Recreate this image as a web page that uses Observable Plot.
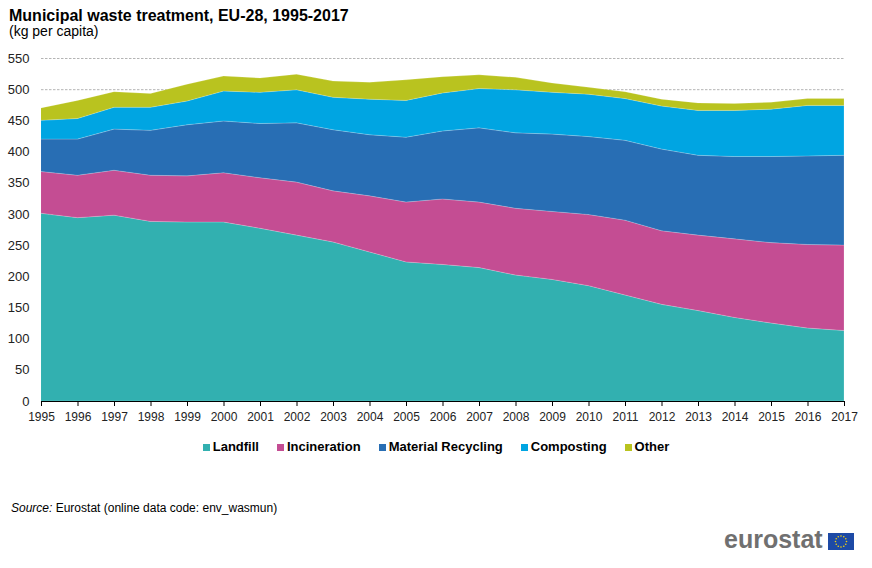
<!DOCTYPE html>
<html>
<head>
<meta charset="utf-8">
<script src="https://cdn.jsdelivr.net/npm/d3@7"></script>
<script src="https://cdn.jsdelivr.net/npm/@observablehq/plot@0.6"></script>
<style>
  html, body { margin: 0; padding: 0; background: #fff; }
  body { width: 872px; height: 568px; position: relative; overflow: hidden; font-family: "Liberation Sans", Arial, sans-serif; color: #000; }
  .abs { position: absolute; white-space: nowrap; }
  #title { left: 9px; top: 8px; font-size: 16px; line-height: 16px; font-weight: bold; }
  #subtitle { left: 9px; top: 24px; font-size: 14px; line-height: 14px; }
  #chart { left: 0; top: 45px; }
  #legend { left: 0; top: 440px; width: 872px; display: flex; justify-content: center; font-size: 13px; font-weight: bold; line-height: 14px; }
  .item { display: flex; align-items: center; margin: 0 9px; }
  .sw { width: 7px; height: 7px; margin-right: 3px; }
  #source { left: 11px; top: 502px; font-size: 12px; line-height: 12px; }
  #logo { left: 724px; top: 527px; font-size: 25px; line-height: 25px; font-weight: bold; color: #707070; }
  #flag { left: 828px; top: 533px; }
</style>
</head>
<body>
<div id="title" class="abs">Municipal waste treatment, EU-28, 1995-2017</div>
<div id="subtitle" class="abs">(kg per capita)</div>
<div id="chart" class="abs"></div>
<div id="legend" class="abs"></div>
<div id="source" class="abs"><i>Source:</i> Eurostat (online data code: env_wasmun)</div>
<div id="logo" class="abs">eurostat</div>
<svg id="flag" class="abs" width="26" height="17"></svg>
<script>
const years = [1995,1996,1997,1998,1999,2000,2001,2002,2003,2004,2005,2006,2007,2008,2009,2010,2011,2012,2013,2014,2015,2016,2017];
const seriesNames = ["Landfill","Incineration","Material Recycling","Composting","Other"];
const seriesColors = ["#32B0B0","#C44D93","#286EB4","#00A5E2","#B9C31F"];
const landfill     = [301,294,298,288,287,287,277,266,255,239,223,219,214,202,195,185,170,155,145,134,125,117,113];
const incineration = [67,68,72,74,74,79,81,85,82,90,96,105,105,107,109,114,120,118,121,126,129,134,137];
const recycling    = [52,58,66,72,82,83,87,95,98,98,104,109,119,121,124,125,128,131,128,132,138,142,144];
const composting   = [30,33,35,37,38,48,50,53,52,57,59,61,63,69,67,68,67,69,72,74,76,81,80];
const other        = [20,29,25,22,27,24,23,25,26,27,33,26,22,20,15,11,11,11,12,11,11,11,11];
const yTicks = [0,50,100,150,200,250,300,350,400,450,500,550];

const seriesValues = [landfill, incineration, recycling, composting, other];
const data = [];
seriesNames.forEach((name, i) => {
  years.forEach((yr, j) => data.push({year: yr, value: seriesValues[i][j], series: name}));
});

const plot = Plot.plot({
  width: 872,
  height: 380,
  marginLeft: 41,
  marginRight: 28,
  marginTop: 13,
  marginBottom: 24,
  style: { fontFamily: "'Liberation Sans', Arial, sans-serif", fontSize: "12px", color: "#222", background: "transparent" },
  x: { type: "linear", domain: [1995, 2017] },
  y: { domain: [0, 550] },
  color: { domain: seriesNames, range: seriesColors },
  marks: [
    Plot.gridY(yTicks, { stroke: "#b4b4b4", strokeOpacity: 1, strokeWidth: 1, strokeDasharray: "2.5,1.5" }),
    Plot.areaY(data, { x: "year", y: "value", fill: "series", order: seriesNames, stroke: "#ffffff", strokeWidth: 0.6, strokeOpacity: 0.3 }),
    Plot.axisY({ ticks: yTicks, tickSize: 0, tickPadding: 12, fontSize: 13, label: null }),
    Plot.axisX({ ticks: years, tickFormat: d => String(d), tickSize: 5, tickPadding: 6, fontSize: 12, label: null, stroke: "#000" }),
    Plot.ruleY([0], { stroke: "#000", strokeWidth: 1 })
  ]
});
document.getElementById("chart").appendChild(plot);

// legend
const legend = document.getElementById("legend");
seriesNames.forEach((name, i) => {
  const it = document.createElement("div");
  it.className = "item";
  const sw = document.createElement("div");
  sw.className = "sw";
  sw.style.background = seriesColors[i];
  const tx = document.createElement("span");
  tx.textContent = name;
  it.appendChild(sw); it.appendChild(tx);
  legend.appendChild(it);
});

// EU flag decoration
const flag = d3.select("#flag");
flag.append("rect").attr("width", 26).attr("height", 17).attr("fill", "#1D4AA6");
for (let k = 0; k < 12; k++) {
  const a = k * Math.PI / 6;
  flag.append("circle").attr("cx", 13 + 5.5 * Math.cos(a)).attr("cy", 8.5 + 5.5 * Math.sin(a)).attr("r", 0.8).attr("fill", "#F4D20F");
}
</script>
</body>
</html>
